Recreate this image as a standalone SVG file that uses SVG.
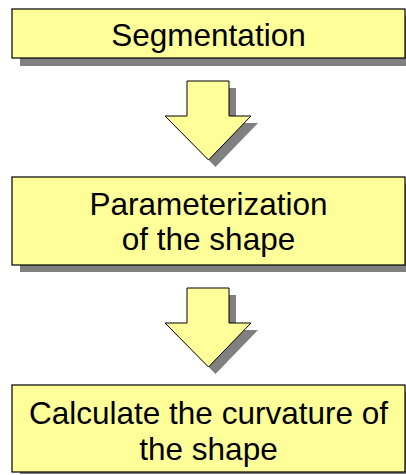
<svg xmlns="http://www.w3.org/2000/svg" width="406" height="475" viewBox="0 0 406 475">
<defs>
<style>
.box{fill:#FFFF99;stroke:#000;stroke-width:1.2}
.shadow{fill:#808080}
.arrow{fill:#FFFF99;stroke:#000;stroke-width:1}
.label{font-family:"Liberation Sans",Arial,sans-serif;font-size:31.5px;fill:#000;text-anchor:middle}
</style>
<path id="arrowShape" d="M187,81 H229 V116 H251 L208.5,160 L165,116 H187 Z"/>
</defs>
<rect width="406" height="475" fill="#fff"/>
<g id="node1">
<rect class="shadow" x="20" y="16" width="393" height="50"/>
<rect class="box" x="12" y="9" width="393" height="49"/>
<text class="label" x="208.5" y="46">Segmentation</text>
</g>
<g id="node2">
<rect class="shadow" x="20" y="184" width="393" height="88"/>
<rect class="box" x="12" y="177" width="393" height="88"/>
<text class="label" x="208.5" y="215">Parameterization</text>
<text class="label" x="208.5" y="250">of the shape</text>
</g>
<g id="node3">
<rect class="shadow" x="20" y="392" width="393" height="82"/>
<rect class="box" x="12" y="385" width="393" height="87"/>
<text class="label" x="208.5" y="424">Calculate the curvature of</text>
<text class="label" x="208.5" y="460">the shape</text>
</g>
<g id="connectors">
<g id="arrow1">
<use href="#arrowShape" class="shadow" transform="translate(7,7)"/>
<use href="#arrowShape" class="arrow"/>
</g>
<g id="arrow2">
<use href="#arrowShape" class="shadow" transform="translate(7,214)"/>
<use href="#arrowShape" class="arrow" transform="translate(0,207)"/>
</g>
</g>
</svg>
